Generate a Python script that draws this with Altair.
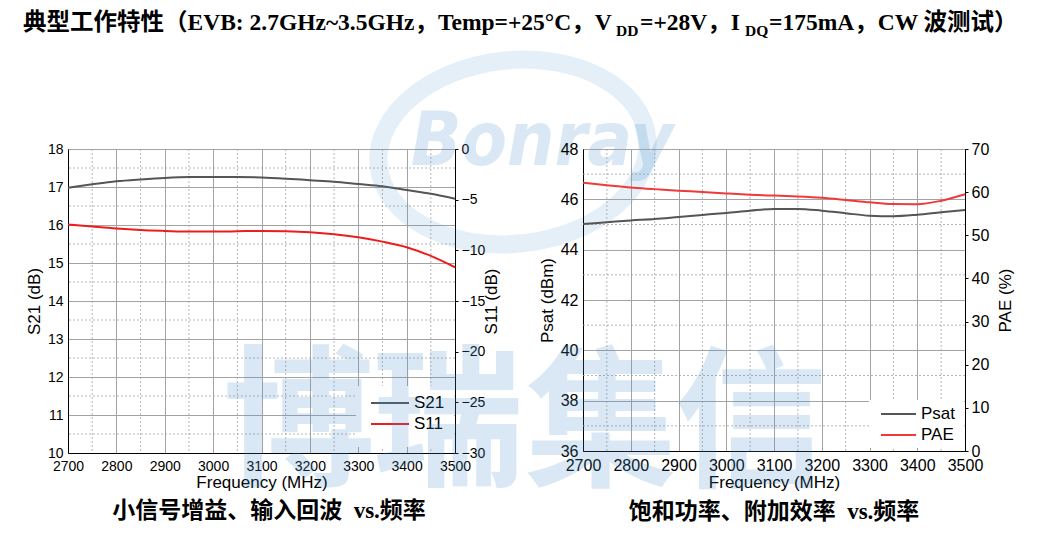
import altair as alt
import pandas as pd

# ---------------- data ----------------
freq = [2700, 2750, 2800, 2850, 2900, 2950, 3000, 3050, 3100, 3150, 3200,
        3250, 3300, 3350, 3400, 3450, 3500]
s21 = [16.98, 17.07, 17.15, 17.20, 17.24, 17.26, 17.26, 17.26, 17.25, 17.22,
       17.18, 17.14, 17.08, 17.02, 16.92, 16.82, 16.69]
s11 = [-7.46, -7.66, -7.85, -7.99, -8.08, -8.15, -8.15, -8.12, -8.08, -8.12,
       -8.22, -8.41, -8.71, -9.14, -9.69, -10.55, -11.67]
psat = [45.02, 45.09, 45.16, 45.22, 45.30, 45.38, 45.46, 45.55, 45.62, 45.62,
        45.55, 45.45, 45.35, 45.33, 45.39, 45.49, 45.58]
pae = [62.2, 61.6, 61.05, 60.7, 60.35, 60.05, 59.7, 59.4, 59.2, 59.0,
       58.7, 58.2, 57.65, 57.25, 57.2, 58.0, 59.5]

x_ticks = [2700, 2800, 2900, 3000, 3100, 3200, 3300, 3400, 3500]
x_minor = [2750, 2850, 2950, 3050, 3150, 3250, 3350, 3450]
s21_ticks = [10, 11, 12, 13, 14, 15, 16, 17, 18]
s21_minor = [10.5, 11.5, 12.5, 13.5, 14.5, 15.5, 16.5, 17.5]
s11_ticks = [0, -5, -10, -15, -20, -25, -30]
psat_ticks = [36, 38, 40, 42, 44, 46, 48]
psat_minor = [37, 39, 41, 43, 45, 47]
pae_ticks = [0, 10, 20, 30, 40, 50, 60, 70]

left_series = ["S21", "S11"]
right_series = ["Psat", "PAE"]
watermark_chars = ["博", "瑞", "集", "信"]
logo_text = "Bonray"

# title pieces: (text, is_subscript)
title_parts = [
    ("典型工作特性（EVB: 2.7GHz~3.5GHz，Temp=+25°C，V", False),
    ("DD", True),
    ("=+28V，I", False),
    ("DQ", True),
    ("=175mA，CW 波测试）", False),
]
sub_left = "小信号增益、输入回波\u2002vs.频率"
sub_right = "饱和功率、附加效率\u2002vs.频率"

# ---------------- styles ----------------
GRID = "#a3a3a3"
WMC = "#4691cd"
WMO = 0.2
GRAY = "#555555"
RED = "#ee1c1c"
RED2 = "#f03a3a"
FONT = "Liberation Sans"
CJK = "Liberation Serif, Noto Sans CJK SC"

df_left = pd.DataFrame({"freq": freq, "S21": s21, "S11": s11})
df_right = pd.DataFrame({"freq": freq, "Psat": psat, "PAE": pae})
one = pd.DataFrame({"k": [0]})


def xenc(lsize):
    return alt.X("freq:Q",
                 scale=alt.Scale(domain=[2700, 3500], nice=False, zero=False),
                 axis=alt.Axis(values=x_ticks, grid=True, gridColor=GRID, gridWidth=1,
                               title="Frequency (MHz)", format="d", labelFontSize=lsize,
                               titleFontSize=17, ticks=False, labelPadding=6,
                               titlePadding=1, labelFlush=False))


def txt(s, x, y, size, font=FONT, weight="normal", align="left", baseline="middle",
        color="black", opacity=1, style="normal"):
    return alt.Chart(one).mark_text(font=font, fontSize=size, fontWeight=weight,
                                    align=align, baseline=baseline, color=color,
                                    opacity=opacity, fontStyle=style).encode(
        x=alt.value(x), y=alt.value(y), text=alt.value(s))


def panel(df, lname, rname, ldom, rdom, lticks, lminor, rticks, ltitle, rtitle,
          lcol, rcol, W, H, lsize, rpad, subtitle, sub_x, sub_y, box, leg_x, leg_len,
          leg_y0, wm, names, top=None):
    layers = []
    # minor grid
    layers.append(alt.Chart(pd.DataFrame({"freq": x_minor})).mark_rule(
        color=GRID, strokeDash=[2, 2], strokeWidth=0.8).encode(x=xenc(lsize)))
    layers.append(alt.Chart(pd.DataFrame({"g": lminor})).mark_rule(
        color=GRID, strokeDash=[2, 2], strokeWidth=0.8).encode(
        y=alt.Y("g:Q", scale=alt.Scale(domain=ldom, nice=False, zero=False), axis=None)))
    # legend background
    layers.append(alt.Chart(one).mark_rect(color="white").encode(
        x=alt.value(box[0]), x2=alt.value(box[2]), y=alt.value(box[1]), y2=alt.value(box[3])))
    # left series
    layers.append(alt.Chart(df).mark_line(color=lcol, strokeWidth=2, interpolate="monotone").encode(
        x=xenc(lsize),
        y=alt.Y(f"{lname}:Q", scale=alt.Scale(domain=ldom, nice=False, zero=False),
                axis=alt.Axis(values=lticks, grid=True, gridColor=GRID, title=ltitle,
                              labelFontSize=lsize, titleFontSize=17, ticks=False,
                              labelPadding=5, titlePadding=4, labelFlush=False))))
    # right series
    layers.append(alt.Chart(df).mark_line(color=rcol, strokeWidth=2, interpolate="monotone").encode(
        x=xenc(lsize),
        y=alt.Y(f"{rname}:Q", scale=alt.Scale(domain=rdom, nice=False, zero=False),
                axis=alt.Axis(orient="right", values=rticks, grid=False, title=rtitle,
                              titleAngle=270, labelFontSize=lsize, titleFontSize=17,
                              ticks=True, tickSize=3, labelPadding=3, titlePadding=rpad,
                              labelFlush=False))))
    # legend
    for i, (nm, col) in enumerate(zip(names, [lcol, rcol])):
        yy = leg_y0 + 21 * i
        layers.append(alt.Chart(one).mark_rule(color=col, strokeWidth=2).encode(
            x=alt.value(leg_x), x2=alt.value(leg_x + leg_len), y=alt.value(yy)))
        layers.append(txt(nm, leg_x + leg_len + 5, yy, 17))
    # watermark on top (semi-transparent)
    if top is not None:
        layers += top
    for ch, (wx, wy) in wm:
        layers.append(txt(ch, wx, wy, 152, font="Noto Sans CJK SC", weight="bold",
                          align="center", color=WMC, opacity=WMO))
    # subtitle
    layers.append(txt(subtitle, sub_x, sub_y, 23, font=CJK, weight="bold", align="center"))
    return alt.layer(*layers).resolve_scale(y="independent").properties(width=W, height=H)


ring_path = "M -1 0 A 1 0.68 0 1 1 1 0 A 1 0.68 0 1 1 -1 0 Z"
extra_left = [
    alt.Chart(one).mark_point(shape=ring_path, size=72900, filled=False, stroke=WMC,
                              strokeOpacity=WMO, strokeWidth=18, angle=354).encode(
        x=alt.value(445), y=alt.value(3)),
    txt(logo_text, 474, -6, 74, font="DejaVu Sans Condensed, Liberation Sans",
        weight="bold", align="center", color=WMC, opacity=WMO, style="italic"),
]
# title pieces (page x -> relative to left plot origin)
title_x = [-45, 548, 572, 677, 701]
for (s, sub), tx in zip(title_parts, title_x):
    extra_left.append(txt(s, tx, -113 if sub else -119, 15.5 if sub else 23.5, font=CJK,
                          weight="bold", baseline="alphabetic"))

left = panel(df_left, "S21", "S11", [10, 18], [-30, 0], s21_ticks, s21_minor, s11_ticks,
             "S21 (dB)", "S11 (dB)", GRAY, RED, 387, 304, 14, 16, sub_left, 201, 362,
             (288, 237, 386, 298), 303, 38, 254,
             [(watermark_chars[0], (231, 279)), (watermark_chars[1], (380, 279))],
             left_series, top=extra_left)
right = panel(df_right, "Psat", "PAE", [36, 48], [0, 70], psat_ticks, psat_minor, pae_ticks,
              "Psat (dBm)", "PAE (%)", GRAY, RED2, 382, 302, 16, 26, sub_right, 191, 363,
              (286, 251, 381, 299), 298, 35, 265,
              [(watermark_chars[2], (18, 280)), (watermark_chars[3], (168, 280))],
              right_series)

chart = alt.hconcat(left, right, spacing=128, bounds="flush").resolve_scale(
    x="independent", y="independent").properties(
    padding={"left": 14, "top": 2, "right": 5, "bottom": 0},
).configure_view(stroke="black", strokeWidth=1).configure_axis(
    labelFont=FONT, titleFont=FONT, labelColor="black", titleColor="black",
    titleFontWeight="normal", domainColor="black", domainWidth=1, tickColor="black")

chart.save("out.html", embed_options={"renderer": "svg", "actions": False})
